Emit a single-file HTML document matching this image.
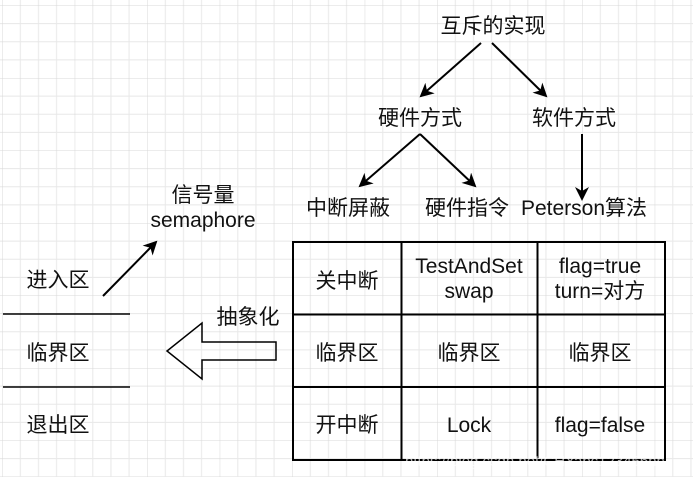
<!DOCTYPE html>
<html><head><meta charset="utf-8"><style>
html,body{margin:0;padding:0;background:#fff;}
svg{display:block;}
text{font-family:"Liberation Sans","Noto Sans CJK SC",sans-serif;font-size:21px;fill:#111;}
</style></head><body>
<svg width="693" height="477" viewBox="0 0 693 477" xmlns="http://www.w3.org/2000/svg">
<defs>
<pattern id="g" x="2.2" y="5.5" width="72.5" height="72.5" patternUnits="userSpaceOnUse">
<path d="M0 0V72.5M18.12 0V72.5M36.25 0V72.5M54.37 0V72.5M0 0H72.5M0 18.12H72.5M0 36.25H72.5M0 54.37H72.5" stroke="#e8e8e8" stroke-width="1" fill="none"/>
<path d="M0 0V72.5M0 0H72.5" stroke="#d8d8d8" stroke-width="1" fill="none"/>
</pattern>
<marker id="a" markerWidth="14" markerHeight="14" refX="12" refY="7" orient="auto" markerUnits="userSpaceOnUse">
<path d="M0 0L14 7L0 14L4 7Z" fill="#000"/>
</marker>
</defs>
<rect width="693" height="477" fill="url(#g)"/>
<g text-anchor="middle">
<text x="493" y="33">互斥的实现</text>
<text x="420" y="125">硬件方式</text>
<text x="574" y="125">软件方式</text>
<text x="348" y="215">中断屏蔽</text>
<text x="467" y="215">硬件指令</text>
<text x="584" y="215">Peterson算法</text>
<text x="203" y="202">信号量</text>
<text x="203" y="227">semaphore</text>
<text x="58" y="287">进入区</text>
<text x="58" y="360">临界区</text>
<text x="58" y="432">退出区</text>
<text x="248" y="324">抽象化</text>
<text x="347" y="288">关中断</text>
<text x="469" y="273">TestAndSet</text>
<text x="469" y="298">swap</text>
<text x="600" y="273">flag=true</text>
<text x="600" y="298">turn=对方</text>
<text x="347" y="360">临界区</text>
<text x="469" y="360">临界区</text>
<text x="600" y="360">临界区</text>
<text x="347" y="432">开中断</text>
<text x="469" y="432">Lock</text>
<text x="600" y="432">flag=false</text>
</g>
<g stroke="#000" stroke-width="2" fill="none">
<line x1="481" y1="43" x2="421" y2="96" marker-end="url(#a)"/>
<line x1="492" y1="43" x2="546" y2="96" marker-end="url(#a)"/>
<line x1="420" y1="134" x2="360" y2="186" marker-end="url(#a)"/>
<line x1="420" y1="134" x2="475" y2="186" marker-end="url(#a)"/>
<line x1="582" y1="134" x2="582" y2="199" marker-end="url(#a)"/>
<line x1="103" y1="296" x2="156" y2="242" marker-end="url(#a)"/>
<line x1="3" y1="314" x2="130" y2="314" stroke-width="1.5"/>
<line x1="3" y1="387" x2="130" y2="387" stroke-width="1.5"/>
<path d="M276 342H202V323L167 351L202 379V360H276Z" stroke-width="1.5"/>
<rect x="293" y="242" width="372" height="218"/>
<line x1="401.5" y1="242" x2="401.5" y2="460"/>
<line x1="537.5" y1="242" x2="537.5" y2="460"/>
<line x1="293" y1="314.5" x2="665" y2="314.5"/>
<line x1="293" y1="387" x2="665" y2="387"/>
</g>
<text x="405" y="466" style="font-size:15px;fill:#fff;fill-opacity:.7">https://blog.csdn.net/CHYabc123456hh</text>
</svg>
</body></html>
